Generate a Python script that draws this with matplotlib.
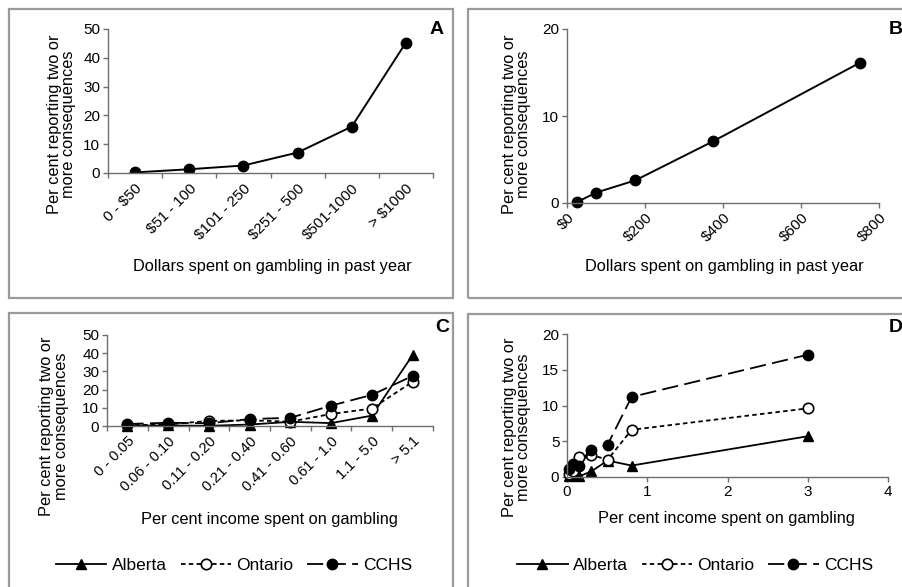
import matplotlib
matplotlib.use("Agg")
import matplotlib.pyplot as plt
from matplotlib.patches import Rectangle

plt.rcParams["font.family"] = ["Liberation Sans", "DejaVu Sans"]
plt.rcParams["font.size"] = 10

W, H = 902, 587

# dollars spent on gambling in past year
spend_cats = ["0 - $50", "$51 - 100", "$101 - 250", "$251 - 500", "$501-1000", "> $1000"]
spend_pct = [0.2, 1.3, 2.6, 7.1, 16.1, 45.3]
spend_mid = [25, 75, 175, 375, 750]
spend_mid_pct = [0.1, 1.2, 2.6, 7.1, 16.1]

# per cent of income spent on gambling
income_cats = ["0 - 0.05", "0.06 - 0.10", "0.11 - 0.20", "0.21 - 0.40",
               "0.41 - 0.60", "0.61 - 1.0", "1.1 - 5.0", "> 5.1"]
income_mid = [0.025, 0.08, 0.155, 0.305, 0.505, 0.805, 3.0]
alberta = [0.2, 0.3, 0.1, 0.8, 2.3, 1.6, 5.7, 39.0]
ontario = [0.4, 0.9, 2.8, 3.1, 2.4, 6.6, 9.6, 24.3]
cchs = [1.1, 1.8, 1.5, 3.8, 4.5, 11.2, 17.1, 27.5]

YLAB = "Per cent reporting two or\nmore consequences"
AX_COL = "#6e6e6e"
LAB_FS = 11.8
TICK_FS = 11

series_style = {
    "Alberta": dict(color="black", lw=1.3, ls="-", marker="^", ms=7.5, mfc="black", mec="black"),
    "Ontario": dict(color="black", lw=1.3, ls=(0, (2.5, 1.8)), marker="o", ms=7.5, mfc="white", mec="black", mew=1.2),
    "CCHS": dict(color="black", lw=1.3, ls=(0, (9, 3.5)), marker="o", ms=7.5, mfc="black", mec="black"),
}

fig = plt.figure(figsize=(W / 100, H / 100), dpi=100)


def px_axes(x0, y0, x1, y1):
    return fig.add_axes([x0 / W, 1 - y1 / H, (x1 - x0) / W, (y1 - y0) / H])


def frame(x0, y0, x1, y1):
    fig.patches.append(Rectangle((x0 / W, 1 - y1 / H), (x1 - x0) / W, (y1 - y0) / H,
                                 transform=fig.transFigure, fill=False,
                                 edgecolor="#9a9a9a", lw=1.6))


def style(ax):
    for s in ["top", "right"]:
        ax.spines[s].set_visible(False)
    for s in ["left", "bottom"]:
        ax.spines[s].set_color(AX_COL)
        ax.spines[s].set_linewidth(1.0)
    ax.tick_params(which="both", direction="out", length=3.5, width=1.0, color=AX_COL,
                   labelsize=TICK_FS, pad=2)


def category_axis(ax, labels, size):
    n = len(labels)
    ax.set_xlim(0.5, n + 0.5)
    ax.set_xticks(range(1, n + 1))
    ax.set_xticklabels(labels, rotation=45, ha="right", rotation_mode="anchor", fontsize=size)
    ax.set_xticks([i + 0.5 for i in range(0, n + 1)], minor=True)
    ax.tick_params(axis="x", which="major", length=0, pad=6)


# panel boxes
frame(9, 9, 453, 298)
frame(468, 9, 910, 298)
frame(9, 313, 453, 600)
frame(468, 314, 910, 600)

# A: categories of dollars spent
axA = px_axes(108, 29, 433, 173)
style(axA)
xs = list(range(1, len(spend_cats) + 1))
axA.plot(xs, spend_pct, color="black", lw=1.4, marker="o", ms=7.5)
category_axis(axA, spend_cats, 10.8)
axA.set_ylim(0, 50)
axA.set_yticks(range(0, 51, 10))
axA.set_ylabel(YLAB, fontsize=LAB_FS, linespacing=0.95)
axA.yaxis.set_label_coords(-0.098, 0.34)
axA.set_xlabel("Dollars spent on gambling in past year", fontsize=LAB_FS)
axA.xaxis.set_label_coords(0.505, -0.6)

# B: midpoints in dollars
axB = px_axes(567, 29, 879, 203)
style(axB)
axB.plot(spend_mid, spend_mid_pct, color="black", lw=1.4, marker="o", ms=7.5, clip_on=False)
axB.set_xlim(0, 800)
axB.set_xticks(range(0, 801, 200))
axB.set_xticklabels(["$0", "$200", "$400", "$600", "$800"], rotation=45, ha="right",
                    rotation_mode="anchor")
axB.set_ylim(0, 20)
axB.set_yticks([0, 10, 20])
axB.set_ylabel(YLAB, fontsize=LAB_FS, linespacing=0.95)
axB.yaxis.set_label_coords(-0.115, 0.45)
axB.set_xlabel("Dollars spent on gambling in past year", fontsize=LAB_FS)
axB.xaxis.set_label_coords(0.503, -0.32)

# C: categories of income share
axC = px_axes(107, 335, 433, 426)
style(axC)
xs = list(range(1, len(income_cats) + 1))
for name, vals in [("Alberta", alberta), ("Ontario", ontario), ("CCHS", cchs)]:
    axC.plot(xs, vals, label=name, clip_on=False, **series_style[name])
category_axis(axC, income_cats, 10.5)
axC.set_ylim(0, 50)
axC.set_yticks(range(0, 51, 10))
axC.set_ylabel(YLAB, fontsize=LAB_FS, linespacing=0.95)
axC.yaxis.set_label_coords(-0.117, 0.0)
axC.set_xlabel("Per cent income spent on gambling", fontsize=LAB_FS)
axC.xaxis.set_label_coords(0.497, -0.95)

# D: income share midpoints
axD = px_axes(567, 334, 888, 477)
style(axD)
n = len(income_mid)
for name, vals in [("Alberta", alberta), ("Ontario", ontario), ("CCHS", cchs)]:
    axD.plot(income_mid, vals[:n], label=name, clip_on=False, **series_style[name])
axD.set_xlim(0, 4)
axD.set_xticks(range(0, 5))
axD.set_ylim(0, 20)
axD.set_yticks(range(0, 21, 5))
axD.set_ylabel(YLAB, fontsize=LAB_FS, linespacing=0.95)
axD.yaxis.set_label_coords(-0.112, 0.35)
axD.set_xlabel("Per cent income spent on gambling", fontsize=LAB_FS)
axD.xaxis.set_label_coords(0.498, -0.24)

for ax, cx in [(axC, 234), (axD, 695)]:
    ax.legend(loc="center", bbox_to_anchor=(cx / W, 1 - 565 / H), bbox_transform=fig.transFigure,
              ncol=3, frameon=False, numpoints=1, handlelength=2.9, handletextpad=0.3,
              columnspacing=0.8, fontsize=12.5, borderaxespad=0)

# panel letters
for letter, x, y in [("A", 437, 30), ("B", 896, 30), ("C", 442, 327), ("D", 896, 328)]:
    fig.text(x / W, 1 - y / H, letter, fontsize=14, fontweight="bold", ha="center", va="center")

fig.savefig("out.png", dpi=100)
